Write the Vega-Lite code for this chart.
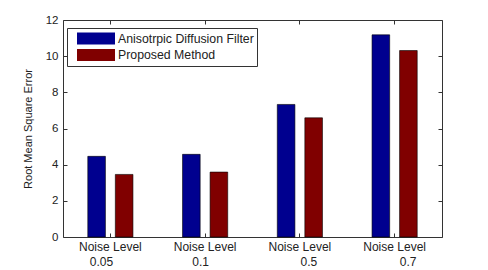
{
  "$schema": "https://vega.github.io/schema/vega-lite/v6.json",
  "autosize": {"type": "none"},
  "padding": {"left": 63, "top": 20, "right": 46, "bottom": 33},
  "width": 379,
  "height": 217,
  "background": "white",
  "config": {
    "view": {"stroke": null},
    "font": "Liberation Sans",
    "axis": {
      "domainColor": "#333333",
      "domainWidth": 1,
      "tickColor": "#333333",
      "tickSize": -4,
      "labelColor": "#222222",
      "labelFont": "Liberation Sans",
      "labelFontSize": 11.5,
      "grid": false,
      "titleFont": "Liberation Sans",
      "titleFontWeight": "normal",
      "titleColor": "#222222"
    }
  },
  "data": {
    "values": [
      {"noise": "0.05", "method": "Anisotrpic Diffusion Filter", "rmse": 4.46},
      {"noise": "0.05", "method": "Proposed Method", "rmse": 3.46},
      {"noise": "0.1", "method": "Anisotrpic Diffusion Filter", "rmse": 4.57},
      {"noise": "0.1", "method": "Proposed Method", "rmse": 3.59},
      {"noise": "0.5", "method": "Anisotrpic Diffusion Filter", "rmse": 7.33},
      {"noise": "0.5", "method": "Proposed Method", "rmse": 6.59},
      {"noise": "0.7", "method": "Anisotrpic Diffusion Filter", "rmse": 11.18},
      {"noise": "0.7", "method": "Proposed Method", "rmse": 10.31}
    ]
  },
  "layer": [
    {
      "mark": {"type": "bar", "stroke": "black", "strokeWidth": 0.6},
      "encoding": {
        "x": {
          "field": "noise", "type": "nominal", "sort": null,
          "scale": {"paddingInner": 0, "paddingOuter": 0},
          "axis": {
            "orient": "bottom", "title": null, "labelAngle": 0,
            "labelPadding": 8, "labelFontSize": 12, "labelLineHeight": 15,
            "labelExpr": "['Noise Level', datum.label == '0.05' ? '0.05\u2800\u2800' : datum.label == '0.1' ? '0.1\u2800' : datum.label == '0.5' ? '\u2800\u28000.5' : '\u2800\u2800\u28000.7']"
          }
        },
        "xOffset": {
          "field": "method", "type": "nominal", "sort": null,
          "scale": {"paddingInner": 0.36, "paddingOuter": 0.9}
        },
        "y": {
          "field": "rmse", "type": "quantitative",
          "scale": {"domain": [0, 12], "nice": false},
          "axis": {
            "orient": "left", "title": "Root Mean Square Error",
            "titleFontSize": 11, "titlePadding": 12,
            "values": [0, 2, 4, 6, 8, 10, 12], "labelPadding": 9
          }
        },
        "color": {
          "field": "method", "type": "nominal", "sort": null,
          "scale": {"range": ["#00008F", "#800000"]},
          "legend": {
            "orient": "none", "legendX": 4, "legendY": 8,
            "title": null,
            "strokeColor": "#333333", "fillColor": "white",
            "padding": 3, "symbolOffset": 7,
            "symbolType": "M-1,-0.32L1,-0.32L1,0.32L-1,0.32Z",
            "symbolSize": 1444, "symbolStrokeWidth": 0,
            "symbolOpacity": 1,
            "clipHeight": 15, "rowPadding": 1.5,
            "labelFontSize": 12.3, "labelColor": "#222222",
            "labelOffset": 3, "labelLimit": 300
          }
        }
      }
    },
    {
      "mark": {"type": "bar", "opacity": 0},
      "encoding": {
        "x": {
          "field": "noise", "type": "nominal", "sort": null,
          "axis": {"orient": "top", "title": null, "labels": false}
        },
        "xOffset": {"field": "method", "type": "nominal", "sort": null},
        "y": {
          "field": "rmse", "type": "quantitative",
          "axis": {"orient": "right", "title": null, "labels": false, "values": [0, 2, 4, 6, 8, 10, 12]}
        }
      }
    }
  ],
  "resolve": {"axis": {"x": "independent", "y": "independent"}}
}
